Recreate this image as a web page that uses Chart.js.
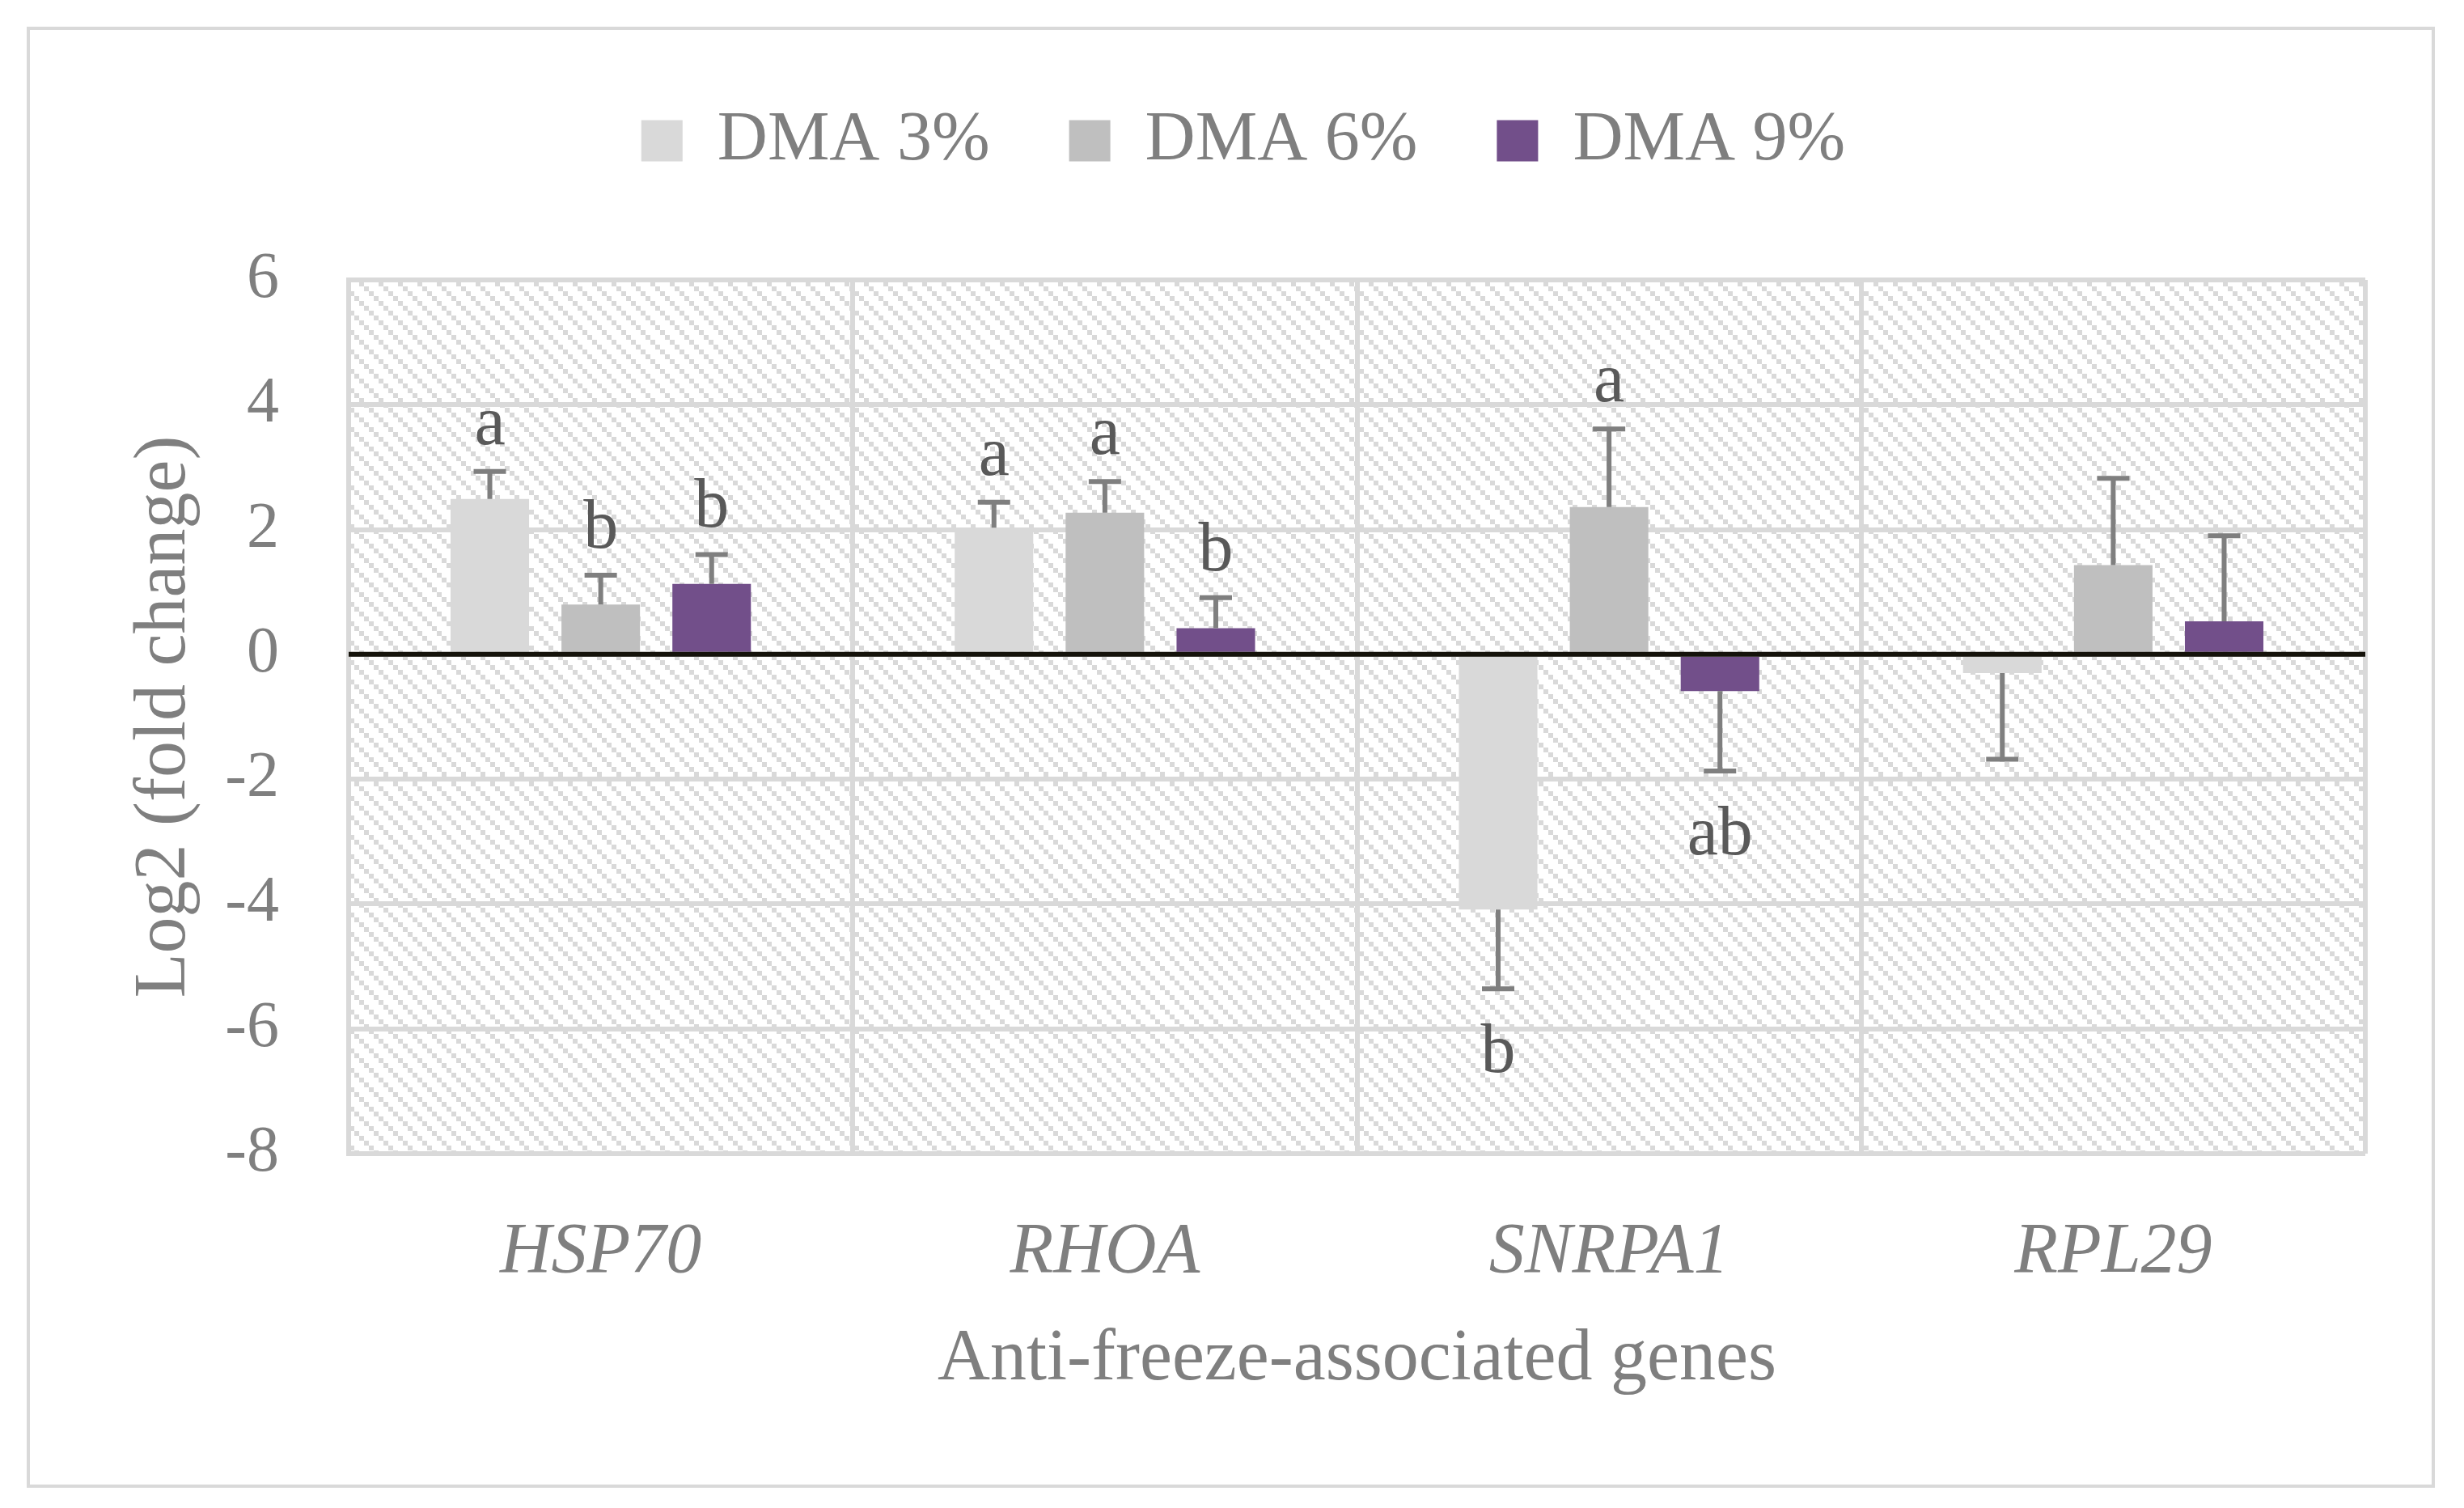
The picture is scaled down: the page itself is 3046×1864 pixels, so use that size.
<!DOCTYPE html>
<html>
<head>
<meta charset="utf-8">
<title>Log2 fold change of anti-freeze-associated genes</title>
<script src="https://cdn.jsdelivr.net/npm/chart.js@4.4.1/dist/chart.umd.min.js"></script>
<style>
  html, body { margin: 0; padding: 0; background: #fff; }
  #chart { display: block; }
</style>
</head>
<body>
<canvas id="chart" width="3046" height="1864"></canvas>
<script>
// values (log2 fold change, one-sided error bars)
const genes = ["HSP70", "RHOA", "SNRPA1", "RPL29"];
const seriesNames = ["DMA 3%", "DMA 6%", "DMA 9%"];
const dma3 = [2.49, 2.03, -4.09, -0.30];
const dma6 = [0.80, 2.27, 2.36, 1.43];
const dma9 = [1.13, 0.42, -0.59, 0.53];
const err3 = [0.44, 0.41, 1.27, 1.38];
const err6 = [0.47, 0.50, 1.25, 1.39];
const err9 = [0.47, 0.49, 1.28, 1.37];
const letters3 = ["a", "a", "b", ""];
const letters6 = ["b", "a", "a", ""];
const letters9 = ["b", "b", "ab", ""];
const yMin = -8, yMax = 6, yStep = 2;

const FONT = "'Liberation Serif', 'Times New Roman', serif";
const GRID = "#d9d9d9";
const TEXT = "#7f7f7f";

/* =========================
   hatched plot area (Excel "light downward diagonal")
========================= */
function hatchPattern(ctx) {
    const tile = document.createElement("canvas");
    tile.width = 24;
    tile.height = 24;
    const t = tile.getContext("2d");
    t.fillStyle = "#fff";
    t.fillRect(0, 0, 24, 24);
    t.fillStyle = GRID;
    for (let i = 0; i < 4; i++) t.fillRect(i * 6, i * 6, 6, 6);
    return ctx.createPattern(tile, "repeat");
}

const backdrop = {
    id: "backdrop",
    beforeDraw(chart) {
        const { ctx, chartArea: a, width, height } = chart;
        ctx.save();
        ctx.fillStyle = "#fff";
        ctx.fillRect(0, 0, width, height);
        ctx.strokeStyle = GRID;
        ctx.lineWidth = 4;
        ctx.strokeRect(35, 35, 2973, 1802);
        ctx.fillStyle = hatchPattern(ctx);
        ctx.fillRect(a.left, a.top, a.right - a.left, a.bottom - a.top);
        ctx.restore();
    }
};

/* =========================
   zero axis, error bars, significance letters
========================= */
const errorBars = {
    id: "errorBars",
    afterDatasetsDraw(chart) {
        const { ctx, chartArea: a } = chart;
        const y = chart.scales.y;
        const y0 = y.getPixelForValue(0);

        ctx.save();
        ctx.strokeStyle = "#15130b";
        ctx.lineWidth = 6;
        ctx.beginPath();
        ctx.moveTo(a.left, y0);
        ctx.lineTo(a.right, y0);
        ctx.stroke();

        chart.data.datasets.forEach((ds, i) => {
            const meta = chart.getDatasetMeta(i);
            meta.data.forEach((bar, j) => {
                const v = ds.data[j];
                const dir = v < 0 ? -1 : 1;
                const yv = y.getPixelForValue(v);
                const ye = y.getPixelForValue(v + dir * ds.errors[j]);

                ctx.strokeStyle = TEXT;
                ctx.lineWidth = 6;
                ctx.beginPath();
                ctx.moveTo(bar.x, yv);
                ctx.lineTo(bar.x, ye);
                ctx.moveTo(bar.x - 20, ye);
                ctx.lineTo(bar.x + 20, ye);
                ctx.stroke();

                const txt = ds.letters[j];
                if (txt) {
                    ctx.fillStyle = "#595959";
                    ctx.font = "86px " + FONT;
                    ctx.textAlign = "center";
                    ctx.textBaseline = "alphabetic";
                    ctx.fillText(txt, bar.x, dir > 0 ? ye - 34 : ye + 103);
                }
            });
        });
        ctx.restore();
    }
};

new Chart(document.getElementById("chart"), {
    type: "bar",
    data: {
        labels: genes,
        datasets: [
            { label: seriesNames[0], data: dma3, errors: err3, letters: letters3, backgroundColor: "#d9d9d9" },
            { label: seriesNames[1], data: dma6, errors: err6, letters: letters6, backgroundColor: "#bfbfbf" },
            { label: seriesNames[2], data: dma9, errors: err9, letters: letters9, backgroundColor: "#724f8a" }
        ]
    },
    options: {
        responsive: false,
        animation: false,
        devicePixelRatio: 1,
        layout: { padding: { left: 150, right: 122, top: 33, bottom: 129 } },
        datasets: {
            bar: { categoryPercentage: 0.66, barPercentage: 0.708, borderWidth: 0 }
        },
        plugins: {
            legend: {
                position: "top",
                weight: 3000,
                labels: {
                    boxWidth: 51,
                    boxHeight: 51,
                    padding: 98,
                    color: TEXT,
                    font: { family: FONT, size: 86 }
                }
            },
            // empty title used as spacer between legend and plot
            title: { display: true, text: "", weight: 500, padding: { top: 107, bottom: 0 }, font: { size: 10 } },
            tooltip: { enabled: false }
        },
        scales: {
            x: {
                grid: { color: GRID, lineWidth: 6, drawTicks: false, offset: true },
                border: { display: false },
                ticks: { padding: 70, color: TEXT, font: { family: FONT, size: 88, style: "italic" } },
                title: {
                    display: true,
                    text: "Anti-freeze-associated genes",
                    color: TEXT,
                    padding: 0,
                    font: { family: FONT, size: 90 }
                },
                afterFit(scale) { scale.height = 309; }
            },
            y: {
                min: yMin,
                max: yMax,
                ticks: { stepSize: yStep, padding: 86, color: TEXT, font: { family: FONT, size: 80 } },
                grid: { color: GRID, lineWidth: 6, drawTicks: false },
                border: { color: GRID, width: 6 },
                title: {
                    display: true,
                    text: "Log2 (fold change)",
                    color: TEXT,
                    padding: 0,
                    font: { family: FONT, size: 90 }
                },
                afterFit(scale) { scale.width = 281; }
            }
        }
    },
    plugins: [backdrop, errorBars]
});
</script>
</body>
</html>
